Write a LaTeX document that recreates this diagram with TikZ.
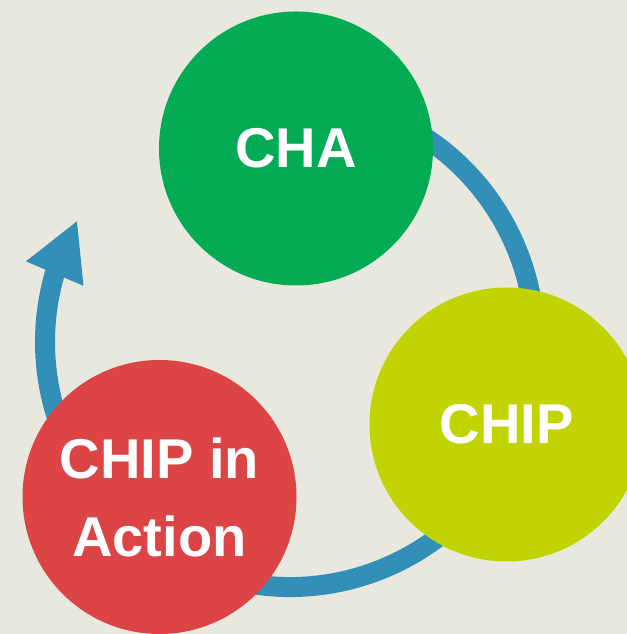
\documentclass[tikz,border=0pt]{standalone}
\usepackage{fontspec}
\setmainfont{Liberation Sans}
\usepackage{xcolor}
\usepackage{tikz}
\usetikzlibrary{positioning}
\usetikzlibrary{arrows.meta,bending}
\usetikzlibrary{calc}

\definecolor{paper}{HTML}{E8E8DE}
\definecolor{chagreen}{HTML}{02AB54}
\definecolor{chiplime}{HTML}{C1D401}
\definecolor{actionred}{HTML}{DC4446}
\definecolor{loopblue}{HTML}{318FB8}

\begin{document}
\begin{tikzpicture}[scale=1., bubble/.style={circle, minimum size=5.48cm, inner sep=0pt, text=white, align=center, font=\bfseries\fontsize{31.9}{44.4}\selectfont}, loop/.style={loopblue, line width=0.4cm}]
 %background
 \clip (0,0) rectangle (12.54,12.68);
 \fill[paper] (0,0) rectangle (12.54,12.68);

 %loop arrow
 \coordinate (hub) at (5.8,5.84);
 \draw[loop, -{Triangle[length=1.16cm,width=1.16cm,flex]}] ($(hub)+(70:4.9)$) arc[start angle=70, end angle=-209.8, radius=4.9];

 %circles
 \node[bubble, fill=chagreen] (cha) at (5.92,9.71) {CHA};
 \node[bubble, fill=chiplime] (chip) at (10.13,4.19) {CHIP};
 \node[bubble, fill=actionred] (action) at (3.19,2.74) {CHIP in\\Action};

\end{tikzpicture}
\end{document}
